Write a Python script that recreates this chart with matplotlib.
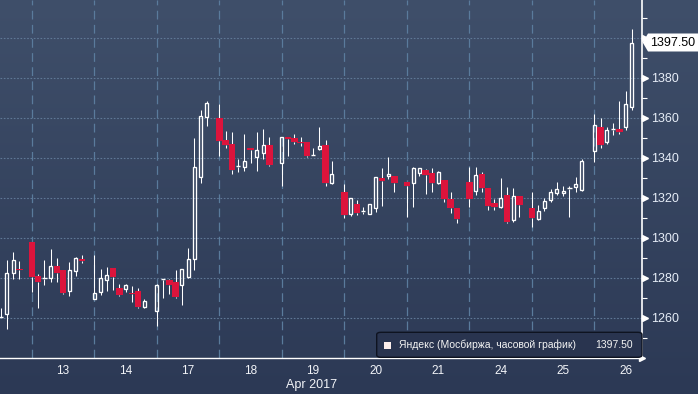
import numpy as np
import matplotlib.pyplot as plt
from matplotlib.patches import Rectangle, FancyBboxPatch, Polygon
from matplotlib.transforms import ScaledTranslation

W, H = 698, 394

# hourly candles, MOEX, 12-26 April 2017
days = ['12', '13', '14', '17', '18', '19', '20', '21', '24', '25', '26']
first_hour = [5, 0, 0, 0, 0, 0, 0, 0, 0, 0, 0]
counts = [4, 9, 9, 9, 9, 9, 9, 9, 9, 9, 7]

opens = [1260.0, 1262.0, 1282.5, 1284.5,
         1298.0, 1280.7, 1279.5, 1280.0, 1285.7, 1283.7, 1273.4, 1283.4, 1289.1,
         1269.4, 1273.0, 1278.7, 1284.9, 1274.9, 1274.1, 1272.4, 1273.2, 1265.4,
         1263.4, 1278.8, 1279.0, 1277.6, 1276.2, 1280.1, 1289.1, 1330.4, 1360.1,
         1359.9, 1348.7, 1347.0, 1335.2, 1335.1, 1344.9, 1340.4, 1342.4, 1346.2,
         1337.4, 1350.1, 1349.6, 1347.9, 1347.6, 1341.0, 1344.2, 1346.2, 1327.1,
         1322.9, 1311.6, 1316.7, 1312.7, 1311.7, 1314.9, 1329.6, 1330.7, 1330.7,
         1327.6, 1327.1, 1332.1, 1333.7, 1332.1, 1327.4, 1328.7, 1319.1, 1314.6,
         1327.9, 1323.4, 1331.7, 1324.6, 1317.4, 1315.4, 1321.2, 1308.7, 1320.7,
         1314.9, 1309.4, 1314.9, 1318.7, 1322.1, 1322.1, 1324.4, 1325.1, 1323.7,
         1343.4, 1355.1, 1348.0, 1353.9, 1354.2, 1355.4, 1365.1]
highs = [1264.6, 1289.0, 1293.0, 1288.5,
         1298.0, 1282.0, 1288.7, 1294.2, 1289.6, 1283.7, 1287.6, 1290.4, 1291.2,
         1291.2, 1284.2, 1285.4, 1285.0, 1277.0, 1277.0, 1275.7, 1274.6, 1269.2,
         1277.0, 1279.5, 1279.2, 1283.7, 1284.5, 1294.7, 1349.6, 1363.7, 1368.4,
         1366.7, 1353.2, 1352.6, 1339.2, 1351.7, 1345.0, 1352.6, 1354.2, 1350.4,
         1350.5, 1350.5, 1351.6, 1350.4, 1348.0, 1344.6, 1355.1, 1348.7, 1338.2,
         1326.6, 1320.0, 1318.7, 1315.4, 1317.0, 1330.5, 1334.6, 1340.1, 1331.0,
         1328.0, 1335.4, 1335.0, 1334.1, 1334.6, 1333.5, 1329.0, 1322.9, 1315.0,
         1335.4, 1335.4, 1332.7, 1325.0, 1319.1, 1329.9, 1325.4, 1324.9, 1321.0,
         1322.9, 1316.2, 1319.6, 1324.2, 1327.9, 1325.7, 1325.7, 1330.4, 1339.1,
         1361.6, 1359.6, 1355.1, 1357.1, 1368.4, 1373.2, 1404.1]
lows = [1260.0, 1254.5, 1279.5, 1279.5,
        1273.0, 1264.6, 1276.3, 1278.0, 1278.0, 1271.6, 1270.9, 1281.0, 1287.1,
        1269.4, 1271.2, 1273.2, 1273.7, 1271.0, 1273.0, 1267.9, 1265.0, 1265.0,
        1255.7, 1269.6, 1271.7, 1270.0, 1266.2, 1280.0, 1283.7, 1327.4, 1355.7,
        1341.0, 1345.0, 1331.6, 1332.9, 1333.4, 1337.4, 1333.4, 1339.2, 1335.7,
        1325.9, 1341.0, 1347.0, 1346.0, 1340.5, 1341.0, 1343.7, 1325.9, 1327.0,
        1309.9, 1311.0, 1311.5, 1311.7, 1311.7, 1312.6, 1315.9, 1329.1, 1322.9,
        1310.4, 1315.4, 1331.0, 1321.7, 1322.9, 1327.0, 1318.0, 1312.4, 1307.1,
        1315.4, 1321.2, 1323.0, 1313.7, 1313.7, 1315.0, 1307.1, 1307.9, 1310.4,
        1305.4, 1309.0, 1313.4, 1318.0, 1321.2, 1320.7, 1310.4, 1322.9, 1323.5,
        1337.9, 1345.0, 1347.0, 1351.2, 1352.0, 1354.0, 1364.0]
closes = [1260.3, 1282.5, 1289.0, 1283.8,
          1280.5, 1277.7, 1280.0, 1285.7, 1282.4, 1272.4, 1283.7, 1289.6, 1288.4,
          1272.2, 1279.6, 1281.2, 1280.4, 1271.2, 1276.2, 1271.6, 1265.4, 1268.2,
          1276.2, 1279.2, 1276.2, 1270.4, 1284.1, 1289.1, 1335.1, 1360.7, 1367.4,
          1348.4, 1346.2, 1333.7, 1335.6, 1338.2, 1343.7, 1343.7, 1346.2, 1336.2,
          1350.1, 1349.2, 1347.9, 1347.1, 1340.9, 1341.4, 1345.7, 1327.4, 1331.6,
          1311.2, 1319.6, 1312.1, 1313.1, 1316.7, 1330.1, 1328.4, 1331.7, 1327.4,
          1325.9, 1334.6, 1334.6, 1331.2, 1327.4, 1332.6, 1319.1, 1314.6, 1309.2,
          1319.2, 1331.2, 1324.6, 1315.9, 1315.4, 1319.6, 1307.9, 1320.7, 1316.2,
          1309.9, 1313.2, 1318.2, 1322.6, 1324.1, 1323.2, 1324.8, 1326.7, 1338.2,
          1356.2, 1346.2, 1353.7, 1354.3, 1352.6, 1366.6, 1397.5]

legend_text = 'Яндекс (Мосбиржа, часовой график)'
last_price = closes[-1]

# 10 slots per trading day, day boundary on the first hourly bar
xs = []
for k, (h0, n) in enumerate(zip(first_hour, counts)):
    xs += [10 * k + h0 + i for i in range(n)]

RED = '#dc143c'
plt.rcParams['font.family'] = ['Liberation Sans', 'DejaVu Sans']


def px(x, y):
    return x / W, 1 - y / H


fig = plt.figure(figsize=(W / 100, H / 100), dpi=100)

# background gradient
bg = fig.add_axes([0, 0, 1, 1], zorder=-1)
t = np.linspace(0, 1, H)[:, None, None]
top = np.array([63, 79, 106]) / 255
bot = np.array([44, 57, 85]) / 255
bg.imshow(top + (bot - top) * t, aspect='auto', extent=[0, 1, 0, 1])
bg.axis('off')

ax = fig.add_axes([0, 1 - 358 / H, 641.7 / W, 358 / H])
ax.set_facecolor('none')
ax.set_xlim(4.91, 107.58)
ax.set_ylim(1239.75, 1418.75)

for yv in range(1260, 1401, 20):
    ax.axhline(yv, color='#5f7896', lw=0.8, ls=(0, (1.5, 1.5)), zorder=1)
for k in range(1, len(days)):
    ax.axvline(10 * k, color='#5a7b9c', lw=0.9, ls=(0, (7, 4.3)), zorder=1)

for xi, o, hi, lo, c in zip(xs, opens, highs, lows, closes):
    b_top, b_bot = max(o, c), min(o, c)
    ax.vlines(xi, b_top, hi, color='white', lw=0.75, zorder=2)
    ax.vlines(xi, lo, b_bot, color='white', lw=0.75, zorder=2)
    if c < o:
        ax.add_patch(Rectangle((xi - 0.53, b_bot), 1.06, max(b_top - b_bot, 0.7),
                               fc=RED, ec='none', zorder=3))
    elif b_top - b_bot < 0.8:
        ax.hlines(c, xi - 0.37, xi + 0.37, color='white', lw=1.0, zorder=3)
    else:
        ax.add_patch(Rectangle((xi - 0.24, b_bot), 0.48, b_top - b_bot,
                               fill=False, ec='white', lw=0.95, zorder=3))

for s in ['left', 'top']:
    ax.spines[s].set_visible(False)
ax.spines['right'].set_color('white')
ax.spines['right'].set_linewidth(1.2)
ax.spines['bottom'].set_color('white')
ax.spines['bottom'].set_linewidth(1.0)

ax.yaxis.tick_right()
ax.set_yticks(range(1260, 1381, 20))
ax.set_yticks(range(1250, 1420, 20), minor=True)
ax.tick_params(axis='y', which='major', length=0, pad=6.5,
               labelcolor='#e6edf7', labelsize=9)
ax.tick_params(axis='y', which='minor', length=3.5, width=0.8, color='white')

# first day is cut at the left edge, so it gets no label
ax.set_xticks([10 * k + 5 for k in range(1, len(days))])
ax.set_xticklabels(days[1:])
ax.tick_params(axis='x', length=0, pad=5, labelcolor='#f2f4f8', labelsize=8.5)

# triangle markers for major y ticks
off = ScaledTranslation(3 / 100, 0, fig.dpi_scale_trans)
ax.plot([1] * 8, list(range(1260, 1401, 20)), ls='none', marker='>', ms=5,
        color='white', transform=ax.get_yaxis_transform() + off, clip_on=False)
ax.plot([1], [0], marker='>', ms=4, color='white', transform=ax.transAxes,
        clip_on=False)

fig.text(*px(311.7, 385), 'Apr 2017', ha='center', va='center',
         color='#f2f4f8', fontsize=9)

# last price tag
fig.canvas.draw()
yd = ax.transData.transform((0, last_price))[1]
yp = H - yd
tag = Polygon([px(642.7, yp), px(648, yp - 9), px(698, yp - 9),
               px(698, yp + 9), px(648, yp + 9)], closed=True,
              transform=fig.transFigure, fc='white', ec='none', zorder=10)
fig.patches.append(tag)
fig.text(*px(673, yp), f'{last_price:.2f}', ha='center', va='center',
         color='black', fontsize=9, zorder=11)

# legend
lx0, ly0, lx1, ly1 = 376.7, 332.3, 642, 357.3
box = FancyBboxPatch(px(lx0, ly1), (lx1 - lx0) / W, (ly1 - ly0) / H,
                     boxstyle='round,pad=0,rounding_size=0.006',
                     transform=fig.transFigure, fc='#29344f', ec='#0e1320',
                     lw=1.0, zorder=10)
fig.patches.append(box)
fig.patches.append(Rectangle(px(384, 349), 7 / W, 7.5 / H, transform=fig.transFigure,
                             fc='#fcefec', ec='none', zorder=11))
fig.text(*px(399.3, 345), legend_text, ha='left', va='center', color='#f4f4f4',
         fontsize=7.5, zorder=11)
fig.text(*px(633.3, 345), f'{last_price:.2f}', ha='right', va='center',
         color='#f4f4f4', fontsize=7.5, zorder=11)

fig.savefig('out.png', dpi=100)
